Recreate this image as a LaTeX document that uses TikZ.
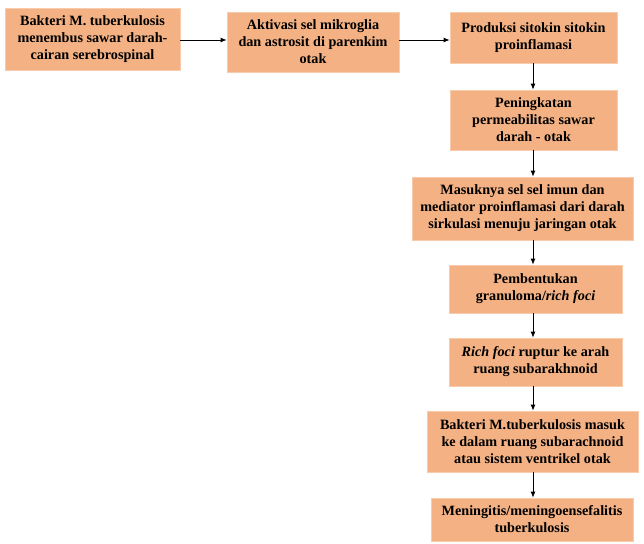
\documentclass[tikz,border=0pt]{standalone}
\usepackage{fontspec}
\setmainfont{Liberation Serif}
\usetikzlibrary{arrows.meta}
\definecolor{boxfill}{HTML}{F4B183}
\definecolor{boxline}{HTML}{F8CBAD}
\tikzset{
  flowbox/.style={draw=boxline, line width=0.8pt, fill=boxfill, align=center, inner sep=0pt,
    font=\fontsize{14.2}{17}\selectfont\bfseries},
  arr/.style={-{Latex[length=6pt,width=5pt]}, line width=0.8pt, black}
}
\begin{document}
\begin{tikzpicture}[x=1pt,y=-1pt]
\useasboundingbox (0,0) rectangle (644,543);
\node[flowbox, minimum width=175pt, minimum height=62pt] (b1) at (92.5,39) {Bakteri M. tuberkulosis\\menembus sawar darah-\\cairan serebrospinal};
\node[flowbox, minimum width=172pt, minimum height=60pt] (b2) at (313,42) {Aktivasi sel mikroglia\\dan astrosit di parenkim\\otak};
\node[flowbox, minimum width=167pt, minimum height=51pt] (b3) at (533.5,37.5) {Produksi sitokin sitokin\\proinflamasi};
\node[flowbox, minimum width=167pt, minimum height=60pt] (b4) at (533.5,120) {Peningkatan\\permeabilitas sawar\\darah - otak};
\node[flowbox, minimum width=221pt, minimum height=63pt] (b5) at (522.5,208.5) {Masuknya sel sel imun dan\\mediator proinflamasi dari darah\\sirkulasi menuju jaringan otak};
\node[flowbox, minimum width=173pt, minimum height=48pt] (b6) at (535.5,289) {Pembentukan\\granuloma/\textit{rich foci}};
\node[flowbox, minimum width=173pt, minimum height=48pt] (b7) at (535.5,362) {\textit{Rich foci} ruptur ke arah\\ruang subarakhnoid};
\node[flowbox, minimum width=211pt, minimum height=61pt] (b8) at (532.5,441.5) {Bakteri M.tuberkulosis masuk\\ke dalam ruang subarachnoid\\atau sistem ventrikel otak};
\node[flowbox, minimum width=202pt, minimum height=43pt] (b9) at (532,519.5) {Meningitis/meningoensefalitis\\tuberkulosis};
\coordinate (ax) at (533,0);
\draw[arr] (b1.east |- 0,40) -- (b2.west |- 0,40);
\draw[arr] (b2.east |- 0,40) -- (b3.west |- 0,40);
\draw[arr] (b3.south -| ax) -- (b4.north -| ax);
\draw[arr] (b4.south -| ax) -- (b5.north -| ax);
\draw[arr] (b5.south -| ax) -- (b6.north -| ax);
\draw[arr] (b6.south -| ax) -- (b7.north -| ax);
\draw[arr] (b7.south -| ax) -- (b8.north -| ax);
\draw[arr] (b8.south -| ax) -- (b9.north -| ax);
\end{tikzpicture}
\end{document}
